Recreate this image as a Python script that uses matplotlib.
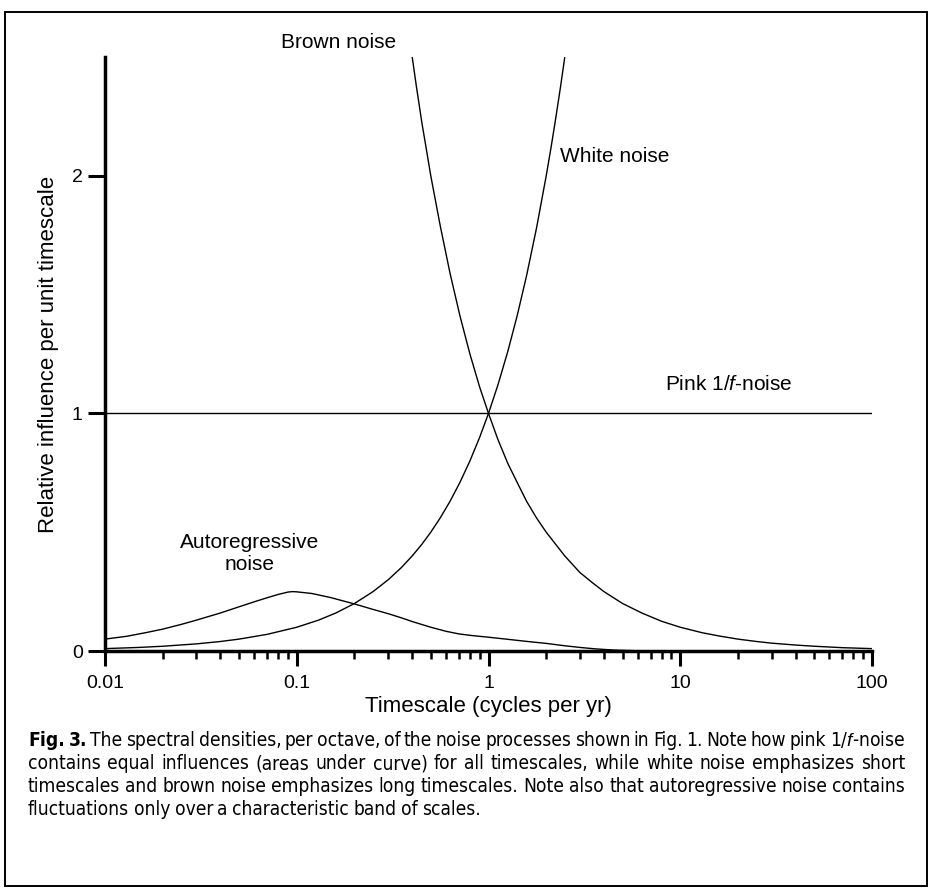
import matplotlib
matplotlib.use("Agg")
from matplotlib import pyplot as plt
from matplotlib import font_manager
from matplotlib.patches import Rectangle
from matplotlib.ticker import FixedLocator, NullFormatter

# Values
WHITE_FREQ = [0.01, 0.015, 0.02, 0.03, 0.04, 0.05, 0.07, 0.1, 0.13, 0.16, 0.2, 0.25, 0.3, 0.35,
              0.4, 0.45, 0.5, 0.56, 0.63, 0.71, 0.8, 0.9, 1.0, 1.12, 1.26, 1.41, 1.58, 1.78,
              2.0, 2.12, 2.24, 2.37, 2.5]
WHITE_VAL = [0.01, 0.015, 0.02, 0.03, 0.04, 0.05, 0.07, 0.1, 0.13, 0.16, 0.2, 0.25, 0.3, 0.35,
             0.4, 0.45, 0.5, 0.56, 0.63, 0.71, 0.8, 0.9, 1.0, 1.12, 1.26, 1.41, 1.58, 1.78,
             2.0, 2.12, 2.24, 2.37, 2.5]

BROWN_FREQ = [0.4, 0.42, 0.45, 0.47, 0.5, 0.56, 0.63, 0.71, 0.8, 0.9, 1.0, 1.12, 1.26, 1.41,
              1.58, 1.78, 2.0, 2.5, 3.0, 3.5, 4.0, 5.0, 6.3, 8.0, 10, 13, 16, 20, 25, 30, 40,
              50, 70, 100]
BROWN_VAL = [2.5, 2.38, 2.22, 2.13, 2.0, 1.79, 1.59, 1.41, 1.25, 1.11, 1.0, 0.89, 0.79, 0.71,
             0.63, 0.56, 0.5, 0.4, 0.33, 0.286, 0.25, 0.2, 0.16, 0.125, 0.1, 0.077, 0.063,
             0.05, 0.04, 0.033, 0.025, 0.02, 0.014, 0.01]

PINK_FREQ = [0.01, 100]
PINK_VAL = [1.0, 1.0]

AR_FREQ = [0.01, 0.013, 0.0165, 0.02, 0.025, 0.03, 0.04, 0.05, 0.06, 0.07, 0.08, 0.09, 0.095,
           0.1, 0.12, 0.15, 0.2, 0.25, 0.3, 0.35, 0.4, 0.5, 0.6, 0.7, 0.8, 1.0, 1.3, 1.6, 2.0,
           2.5, 3.0, 3.6, 4.5, 6.0, 10, 100]
AR_VAL = [0.050, 0.062, 0.078, 0.092, 0.112, 0.130, 0.160, 0.186, 0.207, 0.224, 0.238, 0.248,
          0.250, 0.249, 0.242, 0.225, 0.198, 0.175, 0.157, 0.140, 0.124, 0.100, 0.083, 0.072,
          0.066, 0.058, 0.048, 0.040, 0.032, 0.022, 0.015, 0.009, 0.004, 0.001, 0.0, 0.0]

X_TICKS = [0.01, 0.1, 1, 10, 100]
X_TICK_LABELS = ["0.01", "0.1", "1", "10", "100"]
Y_TICKS = [0, 1, 2]
Y_TICK_LABELS = ["0", "1", "2"]

CAPTION = [
    ["Fig.", "3.", "The", "spectral", "densities,", "per", "octave,", "of", "the", "noise",
     "processes", "shown", "in", "Fig.", "1.", "Note", "how", "pink", r"1/$\mathit{f}$-noise"],
    ["contains", "equal", "influences", "(areas", "under", "curve)", "for", "all", "timescales,",
     "while", "white", "noise", "emphasizes", "short"],
    ["timescales", "and", "brown", "noise", "emphasizes", "long", "timescales.", "Note", "also",
     "that", "autoregressive", "noise", "contains"],
    ["fluctuations", "only", "over", "a", "characteristic", "band", "of", "scales."],
]

W, H = 934, 888
DPI = 100

names = {f.name for f in font_manager.fontManager.ttflist}
CHART_FONT = "Liberation Sans" if "Liberation Sans" in names else "DejaVu Sans"
if "Liberation Sans Narrow" in names:
    CAP_FONT, CAP_STRETCH = "Liberation Sans Narrow", "normal"
else:
    CAP_FONT, CAP_STRETCH = "DejaVu Sans", "condensed"

plt.rcParams["font.family"] = [CHART_FONT, "DejaVu Sans"]
plt.rcParams["mathtext.fontset"] = "custom"
plt.rcParams["mathtext.it"] = CHART_FONT + ":italic"
plt.rcParams["mathtext.rm"] = CHART_FONT


def px_x(x):
    return x / W


def px_y(y):
    return 1 - y / H


fig = plt.figure(figsize=(W / DPI, H / DPI), dpi=DPI)
ax = fig.add_axes([px_x(105), px_y(651), px_x(872) - px_x(105), px_y(57) - px_y(651)])

line_kw = dict(color="black", lw=1.0, solid_capstyle="butt")
ax.plot(PINK_FREQ, PINK_VAL, **line_kw)
ax.plot(WHITE_FREQ, WHITE_VAL, **line_kw)
ax.plot(BROWN_FREQ, BROWN_VAL, **line_kw)
ax.plot(AR_FREQ, AR_VAL, **line_kw)

ax.set_xscale("log")
ax.set_xlim(0.01, 100)
ax.set_ylim(0, 2.5)

for side in ("top", "right"):
    ax.spines[side].set_visible(False)
for side in ("left", "bottom"):
    ax.spines[side].set_linewidth(2.5)

ax.xaxis.set_major_locator(FixedLocator(X_TICKS))
ax.set_xticklabels(X_TICK_LABELS)
ax.xaxis.set_minor_locator(FixedLocator([m * d for d in (0.01, 0.1, 1, 10) for m in range(2, 10)]))
ax.xaxis.set_minor_formatter(NullFormatter())
ax.set_yticks(Y_TICKS)
ax.set_yticklabels(Y_TICK_LABELS)

ax.tick_params(axis="x", which="major", direction="out", length=11, width=2.2, labelsize=14, pad=6)
ax.tick_params(axis="x", which="minor", direction="out", length=6, width=1.8)
ax.tick_params(axis="y", which="major", direction="out", length=12, width=2.2, labelsize=14, pad=4)

ax.set_xlabel("Timescale (cycles per yr)", fontsize=16, labelpad=3)
ax.set_ylabel("Relative influence per unit timescale", fontsize=16, labelpad=9)

ann = dict(fontsize=15, color="black")
ax.text(0.33, 2.56, "Brown noise", ha="right", va="center", clip_on=False, **ann)
ax.text(2.35, 2.08, "White noise", ha="left", va="center", **ann)
ax.text(8.3, 1.12, r"Pink 1/$\mathit{f}$-noise", ha="left", va="center", **ann)
ax.text(0.057, 0.41, "Autoregressive\nnoise", ha="center", va="center", linespacing=1.15, **ann)

# caption, justified word by word
renderer = fig.canvas.get_renderer()
cap_kw = dict(family=[CAP_FONT, "DejaVu Sans"], fontstretch=CAP_STRETCH, fontsize=13.8)
x0, x1 = 28, 905
baselines = [746, 769, 792, 815]
for li, (words, base) in enumerate(zip(CAPTION, baselines)):
    texts = []
    for wi, word in enumerate(words):
        bold = li == 0 and wi < 2
        t = fig.text(0, px_y(base), word, va="baseline", ha="left",
                     fontweight="bold" if bold else "normal", **cap_kw)
        texts.append(t)
    widths = [t.get_window_extent(renderer).width for t in texts]
    if li < len(CAPTION) - 1:
        gap = (x1 - x0 - sum(widths)) / (len(words) - 1)
    else:
        gap = 4.5
    x = x0
    for t, w in zip(texts, widths):
        t.set_x(px_x(x))
        x += w + gap

fig.patches.append(Rectangle((px_x(5), px_y(886)), px_x(927) - px_x(5), px_y(12) - px_y(886),
                             transform=fig.transFigure, fill=False, lw=1.4, edgecolor="black"))

fig.savefig("out.png", dpi=DPI)
